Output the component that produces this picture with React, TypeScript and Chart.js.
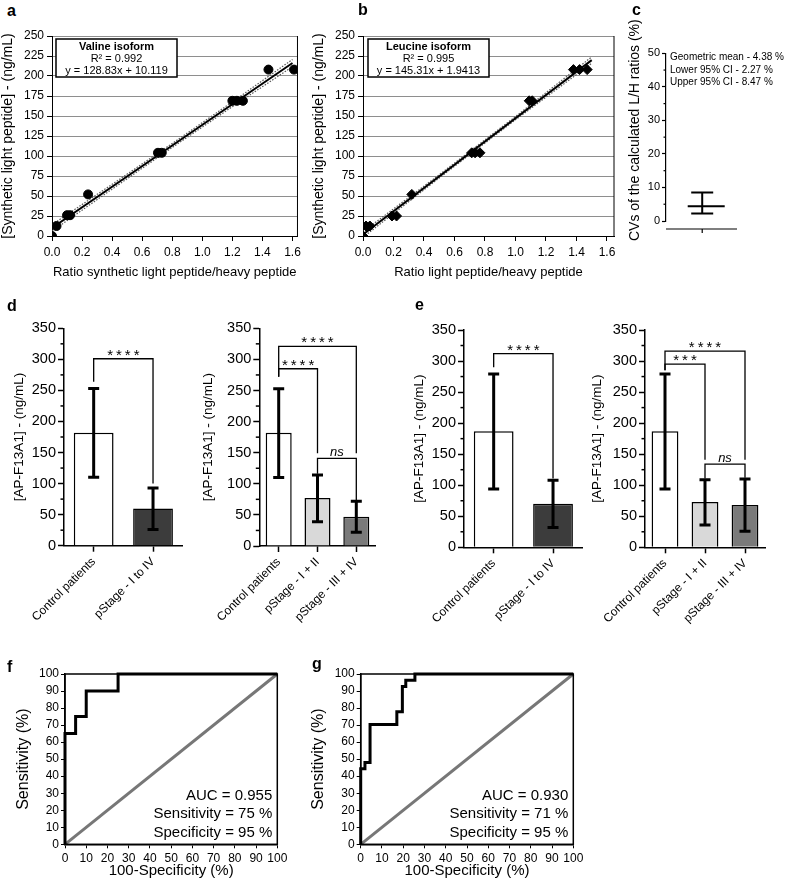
import React, { useEffect, useRef } from 'react';
import { Chart, registerables } from 'chart.js';

Chart.register(...registerables);

const FAMILY = '"Liberation Sans", Arial, Helvetica, sans-serif';
Chart.defaults.font.family = FAMILY;
Chart.defaults.color = '#000';

// ---------------- Panel a (valine isoform calibration) ----------------
const valineRatio = [0, 0.03, 0.1, 0.12, 0.24, 0.705, 0.73, 1.2, 1.23, 1.27, 1.44, 1.61];
const valineConc = [0, 12.5, 26, 26, 52, 104, 104, 169, 169, 169, 208, 208];
const valineFitX = [0, 1.6];
const valineFitY = [10.1, 216.2];
const valineBandX = [0, 0.4, 0.8, 1.2, 1.6];
const valineBandUpper = [14.1, 64.6, 115.7, 167.7, 220.7];
const valineBandLower = [6.1, 58.6, 110.7, 161.7, 211.7];
const valineBox = ['Valine isoform', 'R² = 0.992', 'y = 128.83x + 10.119'];

// ---------------- Panel b (leucine isoform calibration) ----------------
const leucineRatio = [0, 0.02, 0.045, 0.19, 0.22, 0.32, 0.713, 0.735, 0.767, 1.09, 1.11, 1.38, 1.42, 1.47];
const leucineConc = [0, 12.5, 12.5, 25, 25, 52, 104, 104, 104, 169, 169, 208, 208, 208];
const leucineFitX = [0, 1.5];
const leucineFitY = [1.94, 219.9];
const leucineBandX = [0, 0.5, 1.0, 1.5];
const leucineBandUpper = [5.4, 76.6, 149.3, 223.9];
const leucineBandLower = [-1.6, 72.6, 145.3, 215.9];
const leucineBox = ['Leucine isoform', 'R² = 0.995', 'y = 145.31x + 1.9413'];

const abYTicksMax = 250;
const abYStep = 25;
const abXStep = 0.2;

// ---------------- Panel c (CVs) ----------------
const cvGeoMean = 4.38;
const cvLower = 2.27;
const cvUpper = 8.47;
const cvTitle = 'CVs of the calculated L/H ratios (%)';
const cvLines = ['Geometric mean - 4.38 %', 'Lower 95% CI - 2.27 %', 'Upper 95% CI - 8.47 %'];
const cvMinorTicks = [5, 15, 25, 35, 45];

// ---------------- Panels d / e (bar charts) ----------------
const barMinorTicks = [25, 75, 125, 175, 225, 275, 325];

const dLeftLabels = ['Control patients', 'pStage - I to IV'];
const dLeftMean = [182, 60];
const dLeftLow = [110, 26];
const dLeftHigh = [253, 93];
const dLeftColors = ['#ffffff', '#3c3c3c'];
const dLeftBrackets = [{ from: 0, to: 1, level: 301, leftEnd: 264, rightEnd: 100, text: '****' }];

const dRightLabels = ['Control patients', 'pStage - I + II', 'pStage - III + IV'];
const dRightMean = [182, 77, 47];
const dRightLow = [110, 39, 22];
const dRightHigh = [253, 114, 72];
const dRightColors = ['#ffffff', '#d9d9d9', '#7a7a7a'];
const dRightBrackets = [
  { from: 0, to: 2, level: 321, leftEnd: 272, rightEnd: 149, text: '****' },
  { from: 0, to: 1, level: 285, leftEnd: 272, rightEnd: 149, text: '****' },
  { from: 1, to: 2, level: 141, leftEnd: 116, rightEnd: 74, text: 'ns' },
];

const eLeftLabels = ['Control patients', 'pStage - I to IV'];
const eLeftMean = [187, 70];
const eLeftLow = [94, 32];
const eLeftHigh = [279, 108];
const eLeftColors = ['#ffffff', '#3c3c3c'];
const eLeftBrackets = [{ from: 0, to: 1, level: 312, leftEnd: 290, rightEnd: 111, text: '****' }];

const eRightLabels = ['Control patients', 'pStage - I + II', 'pStage - III + IV'];
const eRightMean = [187, 73, 68];
const eRightLow = [94, 36, 26];
const eRightHigh = [279, 109, 110];
const eRightColors = ['#ffffff', '#d9d9d9', '#7a7a7a'];
const eRightBrackets = [
  { from: 0, to: 2, level: 316, leftEnd: 285, rightEnd: 141, text: '****' },
  { from: 0, to: 1, level: 295, leftEnd: 285, rightEnd: 141, text: '***' },
  { from: 1, to: 2, level: 134, leftEnd: 111, rightEnd: 112, text: 'ns' },
];

// ---------------- Panels f / g (ROC) ----------------
const fFpr = [0, 0, 5, 10, 25, 100];
const fTpr = [0, 65, 75, 90, 100, 100];
const fText = ['AUC = 0.955', 'Sensitivity = 75 %', 'Specificity = 95 %'];

const gFpr = [0, 0, 2, 4.4, 17, 19.6, 21.2, 25.5, 100];
const gTpr = [0, 44.4, 48.1, 70.4, 77.8, 92.6, 96.3, 100, 100];
const gText = ['AUC = 0.930', 'Sensitivity = 71 %', 'Specificity = 95 %'];

const diagX = [0, 100];
const diagY = [0, 100];

const panelLetters = [
  { t: 'a', x: 7, y: 17 },
  { t: 'b', x: 358, y: 16 },
  { t: 'c', x: 632, y: 16 },
  { t: 'd', x: 7, y: 312 },
  { t: 'e', x: 415, y: 311 },
  { t: 'f', x: 7, y: 673 },
  { t: 'g', x: 312, y: 670 },
];

// ---------------- helpers ----------------
const pts = (xs: number[], ys: number[]) => xs.map((x, i) => ({ x, y: ys[i] }));
const f = (size: number, extra: any = {}) => ({ family: FAMILY, size, ...extra });

const minorTickPlugin = (values: number[], len: number, width: number) => ({
  id: 'minorTicks',
  afterDraw(chart: any) {
    const ys = chart.scales.y;
    const ctx = chart.ctx;
    const x0 = chart.chartArea.left;
    ctx.save();
    ctx.strokeStyle = '#000';
    ctx.lineWidth = width;
    values.forEach((v) => {
      const py = ys.getPixelForValue(v);
      ctx.beginPath();
      ctx.moveTo(x0, py);
      ctx.lineTo(x0 - len, py);
      ctx.stroke();
    });
    ctx.restore();
  },
});

function calibConfig(o: any) {
  return {
    type: 'scatter',
    data: {
      datasets: [
        {
          data: pts(o.px, o.py),
          backgroundColor: '#000',
          borderColor: '#000',
          pointStyle: o.pointStyle,
          pointRadius: o.pointRadius,
          showLine: false,
        },
        {
          data: pts(o.fitX, o.fitY),
          showLine: true,
          borderColor: '#000',
          borderWidth: 2,
          pointRadius: 0,
        },
        {
          data: pts(o.bandX, o.bandU),
          showLine: true,
          borderColor: '#555',
          borderWidth: 1.2,
          borderDash: [1.5, 1.5],
          pointRadius: 0,
        },
        {
          data: pts(o.bandX, o.bandL),
          showLine: true,
          borderColor: '#555',
          borderWidth: 1.2,
          borderDash: [1.5, 1.5],
          pointRadius: 0,
        },
      ],
    },
    options: {
      animation: false,
      responsive: false,
      events: [],
      layout: { padding: { top: 16, right: o.padRight, left: 0, bottom: 0 } },
      plugins: { legend: { display: false }, tooltip: { enabled: false } },
      scales: {
        x: {
          type: 'linear',
          min: 0,
          max: o.xMax,
          ticks: {
            stepSize: abXStep,
            includeBounds: false,
            font: f(12),
            color: '#000',
            padding: 4,
            minRotation: 0,
            maxRotation: 0,
            callback: (v: number) => Number(v).toFixed(1),
          },
          grid: { drawOnChartArea: false, drawTicks: true, tickLength: 5, color: '#000' },
          border: { color: '#000', width: 1 },
          title: { display: true, text: o.xTitle, font: f(13), color: '#000', padding: { top: 0, bottom: 10.2 } },
          afterFit: (s: any) => { s.height = 54; },
        },
        y: {
          min: 0,
          max: abYTicksMax,
          ticks: { stepSize: abYStep, font: f(12), color: '#000', padding: 3 },
          grid: { color: '#8e8e8e', lineWidth: 1, tickLength: 5, tickColor: '#000' },
          border: { color: '#000', width: 1 },
          title: { display: true, text: '[Synthetic light peptide] - (ng/mL)', font: f(14), color: '#000', padding: { top: o.yTitlePad, bottom: 0 } },
          afterFit: (s: any) => { s.width = o.yWidth; },
        },
      },
    },
    plugins: [
      {
        id: 'calibExtras',
        afterDraw(chart: any) {
          const { ctx, chartArea: ca } = chart;
          ctx.save();
          ctx.strokeStyle = '#000';
          ctx.lineWidth = 1;
          ctx.beginPath();
          ctx.moveTo(ca.right, ca.top);
          ctx.lineTo(ca.right, ca.bottom);
          ctx.stroke();
          // legend box
          const bx = ca.left + o.boxOff;
          const by = ca.top + 3;
          const bw = 121;
          const bh = 38;
          ctx.fillStyle = '#fff';
          ctx.fillRect(bx, by, bw, bh);
          ctx.lineWidth = 1.5;
          ctx.strokeRect(bx, by, bw, bh);
          ctx.fillStyle = '#000';
          ctx.textAlign = 'center';
          ctx.textBaseline = 'middle';
          o.box.forEach((t: string, i: number) => {
            ctx.font = `${i === 0 ? 'bold ' : ''}11px ${FAMILY}`;
            ctx.fillText(t, bx + bw / 2, by + 7.5 + i * 12);
          });
          ctx.restore();
        },
      },
    ],
  };
}

function barConfig(o: any) {
  return {
    type: 'bar',
    data: {
      labels: o.labels,
      datasets: [
        {
          data: o.mean,
          backgroundColor: o.colors,
          borderColor: '#000',
          borderWidth: 1.5,
          barPercentage: 0.67,
          categoryPercentage: 1,
        },
      ],
    },
    options: {
      animation: false,
      responsive: false,
      events: [],
      layout: { padding: { top: o.padTop, right: o.padRight, left: 0, bottom: 0 } },
      plugins: { legend: { display: false }, tooltip: { enabled: false } },
      scales: {
        x: {
          ticks: { minRotation: 45, maxRotation: 45, autoSkip: false, font: f(12), color: '#000', padding: 3 },
          grid: { offset: false, drawOnChartArea: false, drawTicks: true, tickLength: 6, color: '#000', tickWidth: 1.5 },
          border: { color: '#000', width: 1.5 },
          afterFit: (s: any) => { s.height = o.xHeight; },
        },
        y: {
          min: 0,
          max: 350,
          ticks: { stepSize: 50, font: f(14.5), color: '#000', padding: 2 },
          grid: { drawOnChartArea: false, drawTicks: true, tickLength: 6, color: '#000', tickWidth: 1.5 },
          border: { color: '#000', width: 1.5 },
          title: { display: true, text: '[AP-F13A1] - (ng/mL)', font: f(13.5), color: '#000', padding: { top: o.yTitlePad, bottom: 0 } },
          afterFit: (s: any) => { s.width = o.yWidth; },
        },
      },
    },
    plugins: [
      minorTickPlugin(barMinorTicks, 3.5, 1.5),
      {
        id: 'barExtras',
        afterDatasetsDraw(chart: any) {
          const ctx = chart.ctx;
          const xs = chart.scales.x;
          const ys = chart.scales.y;
          ctx.save();
          ctx.strokeStyle = '#000';
          ctx.lineWidth = 3;
          o.low.forEach((lo: number, i: number) => {
            const x = xs.getPixelForValue(i);
            const y1 = ys.getPixelForValue(lo);
            const y2 = ys.getPixelForValue(o.high[i]);
            ctx.beginPath();
            ctx.moveTo(x, y1);
            ctx.lineTo(x, y2);
            ctx.moveTo(x - 5.5, y1);
            ctx.lineTo(x + 5.5, y1);
            ctx.moveTo(x - 5.5, y2);
            ctx.lineTo(x + 5.5, y2);
            ctx.stroke();
          });
          ctx.lineWidth = 1.3;
          o.brackets.forEach((b: any) => {
            const x1 = xs.getPixelForValue(b.from);
            const x2 = xs.getPixelForValue(b.to);
            const y = ys.getPixelForValue(b.level);
            ctx.beginPath();
            ctx.moveTo(x1, ys.getPixelForValue(b.leftEnd));
            ctx.lineTo(x1, y);
            ctx.lineTo(x2, y);
            ctx.lineTo(x2, ys.getPixelForValue(b.rightEnd));
            ctx.stroke();
            ctx.fillStyle = '#000';
            ctx.textAlign = 'center';
            ctx.textBaseline = 'alphabetic';
            if (b.text === 'ns') {
              ctx.font = `italic 13px ${FAMILY}`;
              ctx.fillText(b.text, (x1 + x2) / 2, y - 2);
            } else {
              ctx.font = `15px ${FAMILY}`;
              (ctx as any).letterSpacing = '3px';
              ctx.fillText(b.text, (x1 + x2) / 2 + 1.5, y + 1);
              (ctx as any).letterSpacing = '0px';
            }
          });
          ctx.restore();
        },
      },
    ],
  };
}

function rocConfig(o: any) {
  return {
    type: 'scatter',
    data: {
      datasets: [
        {
          data: pts(o.fpr, o.tpr),
          showLine: true,
          stepped: 'before',
          borderColor: '#000',
          borderWidth: 3,
          borderJoinStyle: 'miter',
          pointRadius: 0,
          clip: false,
        },
        {
          data: pts(diagX, diagY),
          showLine: true,
          borderColor: '#777777',
          borderWidth: 3,
          pointRadius: 0,
          clip: false,
        },
      ],
    },
    options: {
      animation: false,
      responsive: false,
      events: [],
      layout: { padding: { top: 34, right: o.padRight, left: 0, bottom: 0 } },
      plugins: { legend: { display: false }, tooltip: { enabled: false } },
      scales: {
        x: {
          type: 'linear',
          min: 0,
          max: 100,
          ticks: { stepSize: 10, font: f(12), color: '#000', padding: 3.5, minRotation: 0, maxRotation: 0, autoSkip: false },
          grid: { drawOnChartArea: false, drawTicks: true, tickLength: 4, color: '#000' },
          border: { color: '#000', width: 1.5 },
          title: { display: true, text: '100-Specificity (%)', font: f(15), color: '#000', padding: { top: 0, bottom: 9 } },
          afterFit: (s: any) => { s.height = 44.7; },
        },
        y: {
          min: 0,
          max: 100,
          ticks: { stepSize: 10, font: f(12), color: '#000', padding: 2, autoSkip: false },
          grid: { drawOnChartArea: false, drawTicks: true, tickLength: 4, color: '#000' },
          border: { color: '#000', width: 1.5 },
          title: { display: true, text: 'Sensitivity (%)', font: f(16), color: '#000', padding: { top: 13.7, bottom: 0 } },
          afterFit: (s: any) => { s.width = o.yWidth; },
        },
      },
    },
    plugins: [
      {
        id: 'rocExtras',
        afterDraw(chart: any) {
          const { ctx, chartArea: ca } = chart;
          ctx.save();
          ctx.strokeStyle = '#000';
          ctx.lineWidth = 1.5;
          ctx.strokeRect(ca.left, ca.top, ca.right - ca.left, ca.bottom - ca.top);
          ctx.fillStyle = '#000';
          ctx.font = `15px ${FAMILY}`;
          ctx.textAlign = 'right';
          ctx.textBaseline = 'middle';
          const offs = [48.6, 30.3, 11.6];
          o.text.forEach((t: string, i: number) => {
            ctx.fillText(t, ca.right - 5, ca.bottom - offs[i]);
          });
          ctx.restore();
        },
      },
    ],
  };
}

function cvConfig() {
  return {
    type: 'scatter',
    data: { datasets: [] },
    options: {
      animation: false,
      responsive: false,
      events: [],
      layout: { padding: { top: 38.3, right: 48, left: 0, bottom: 29 } },
      plugins: { legend: { display: false }, tooltip: { enabled: false } },
      scales: {
        x: { type: 'linear', min: 0, max: 1, display: false },
        y: {
          min: 0,
          max: 50,
          ticks: { stepSize: 10, font: f(11), color: '#000', padding: 2 },
          grid: { drawOnChartArea: false, drawTicks: true, tickLength: 4, color: '#000', tickWidth: 1.2 },
          border: { color: '#000', width: 1.2 },
          title: { display: false },
          afterFit: (s: any) => { s.width = 46; },
        },
      },
    },
    plugins: [
      minorTickPlugin(cvMinorTicks, 2.5, 1.2),
      {
        id: 'cvExtras',
        afterDraw(chart: any) {
          const { ctx, chartArea: ca } = chart;
          const xs = chart.scales.x;
          const ys = chart.scales.y;
          ctx.save();
          ctx.strokeStyle = '#000';
          // detached x axis
          const ax = ca.bottom + 8;
          const cx = xs.getPixelForValue(0.51);
          ctx.lineWidth = 1.2;
          ctx.beginPath();
          ctx.moveTo(ca.left, ax);
          ctx.lineTo(ca.right, ax);
          ctx.moveTo(cx, ax);
          ctx.lineTo(cx, ax + 4);
          ctx.stroke();
          // mean and CI
          const ym = ys.getPixelForValue(cvGeoMean);
          const yl = ys.getPixelForValue(cvLower);
          const yu = ys.getPixelForValue(cvUpper);
          ctx.lineWidth = 2;
          ctx.beginPath();
          ctx.moveTo(cx - 14.5, ym);
          ctx.lineTo(cx + 22.5, ym);
          ctx.moveTo(cx, yl);
          ctx.lineTo(cx, yu);
          ctx.moveTo(cx - 11, yl);
          ctx.lineTo(cx + 11, yl);
          ctx.moveTo(cx - 11, yu);
          ctx.lineTo(cx + 11, yu);
          ctx.stroke();
          ctx.fillStyle = '#000';
          ctx.font = `10px ${FAMILY}`;
          ctx.textAlign = 'left';
          ctx.textBaseline = 'middle';
          const offs = [4, 17.4, 29.4];
          cvLines.forEach((t, i) => ctx.fillText(t, ca.left + 4, ca.top + offs[i]));
          // axis title
          ctx.save();
          ctx.translate(ca.left - 31, ca.top + (ca.bottom - ca.top) / 2 - 7);
          ctx.rotate(-Math.PI / 2);
          ctx.font = `14px ${FAMILY}`;
          ctx.textAlign = 'center';
          ctx.fillText(cvTitle, 0, 0);
          ctx.restore();
          ctx.restore();
        },
      },
    ],
  };
}

function ChartBox({ left, top, width, height, make }: any) {
  const ref = useRef<HTMLCanvasElement>(null);
  useEffect(() => {
    const chart = new Chart(ref.current as HTMLCanvasElement, make());
    return () => chart.destroy();
  }, []);
  return (
    <div style={{ position: 'absolute', left, top, width, height }}>
      <canvas ref={ref} width={width} height={height} style={{ display: 'block', width, height }} />
    </div>
  );
}

export default function App() {
  const letterSize = 16;
  return (
    <div style={{ position: 'absolute', left: 0, top: 0, width: 785, height: 889, background: '#fff', overflow: 'hidden' }}>
      <ChartBox left={0} top={20} width={305} height={270} make={() => calibConfig({
        px: valineRatio, py: valineConc, pointStyle: 'circle', pointRadius: 4.5,
        fitX: valineFitX, fitY: valineFitY, bandX: valineBandX, bandU: valineBandUpper, bandL: valineBandLower,
        xMax: 1.633, xTitle: 'Ratio synthetic light peptide/heavy peptide', yWidth: 52, padRight: 7, yTitlePad: 0,
        box: valineBox, boxOff: 4,
      })} />
      <ChartBox left={300} top={20} width={320} height={270} make={() => calibConfig({
        px: leucineRatio, py: leucineConc, pointStyle: 'rectRot', pointRadius: 5,
        fitX: leucineFitX, fitY: leucineFitY, bandX: leucineBandX, bandU: leucineBandUpper, bandL: leucineBandLower,
        xMax: 1.646, xTitle: 'Ratio light peptide/heavy peptide', yWidth: 63, padRight: 6, yTitlePad: 10.8,
        box: leucineBox, boxOff: 5,
      })} />
      <ChartBox left={620} top={15} width={165} height={235} make={() => cvConfig()} />
      <ChartBox left={0} top={290} width={190} height={335} make={() => barConfig({
        labels: dLeftLabels, mean: dLeftMean, low: dLeftLow, high: dLeftHigh, colors: dLeftColors, brackets: dLeftBrackets,
        padTop: 38.3, padRight: 7.3, yWidth: 64, xHeight: 79.3, yTitlePad: 10.9,
      })} />
      <ChartBox left={195} top={290} width={200} height={335} make={() => barConfig({
        labels: dRightLabels, mean: dRightMean, low: dRightLow, high: dRightHigh, colors: dRightColors, brackets: dRightBrackets,
        padTop: 38.3, padRight: 19.3, yWidth: 64.3, xHeight: 79, yTitlePad: 5.2,
      })} />
      <ChartBox left={400} top={290} width={190} height={335} make={() => barConfig({
        labels: eLeftLabels, mean: eLeftMean, low: eLeftLow, high: eLeftHigh, colors: eLeftColors, brackets: eLeftBrackets,
        padTop: 40, padRight: 7.3, yWidth: 64, xHeight: 77.7, yTitlePad: 10.9,
      })} />
      <ChartBox left={585} top={290} width={200} height={335} make={() => barConfig({
        labels: eRightLabels, mean: eRightMean, low: eRightLow, high: eRightHigh, colors: eRightColors, brackets: eRightBrackets,
        padTop: 40, padRight: 20, yWidth: 60, xHeight: 77.7, yTitlePad: 4.4,
      })} />
      <ChartBox left={0} top={640} width={300} height={249} make={() => rocConfig({
        fpr: fFpr, tpr: fTpr, text: fText, yWidth: 65, padRight: 22.7,
      })} />
      <ChartBox left={295} top={640} width={300} height={249} make={() => rocConfig({
        fpr: gFpr, tpr: gTpr, text: gText, yWidth: 65.7, padRight: 21.7,
      })} />
      {panelLetters.map((l) => (
        <div key={l.t} style={{
          position: 'absolute', left: l.x, top: l.y - letterSize * 0.8465, fontFamily: FAMILY,
          fontWeight: 900, fontSize: letterSize, lineHeight: `${letterSize}px`, color: '#000',
        }}>{l.t}</div>
      ))}
    </div>
  );
}
